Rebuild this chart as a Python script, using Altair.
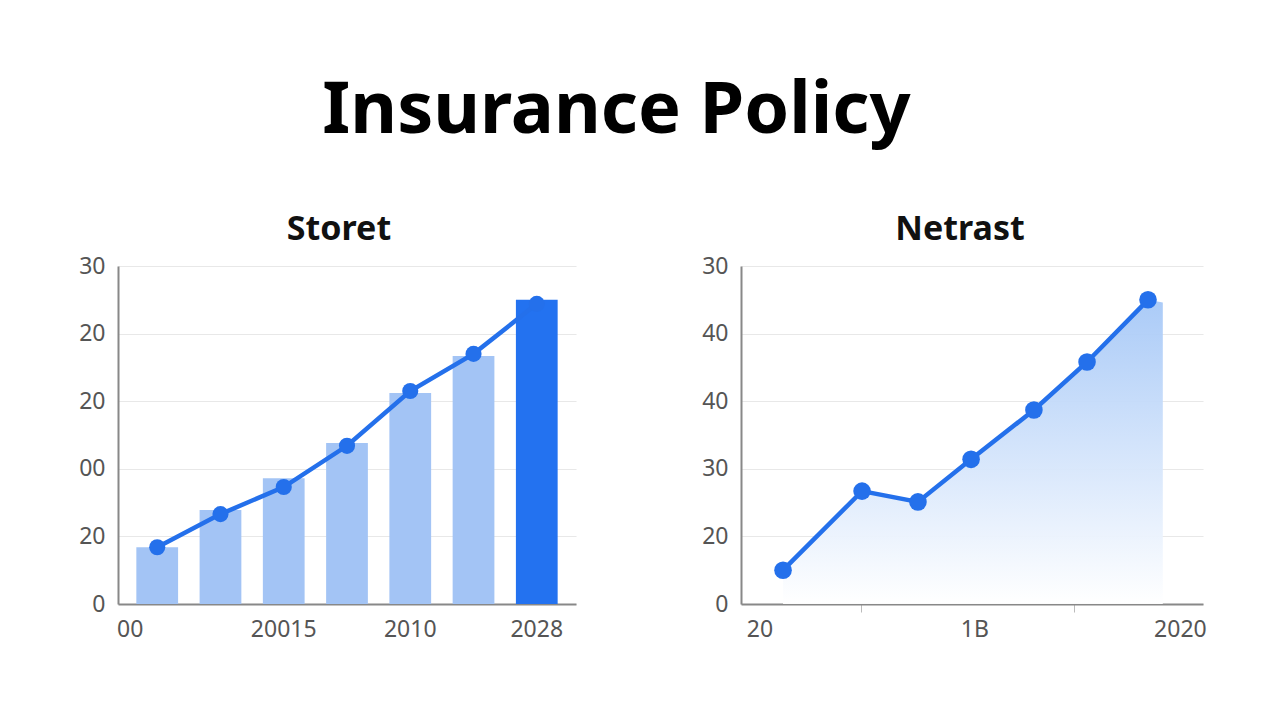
import altair as alt
import pandas as pd

# ---- data ----
left_cats = ["c1", "c2", "c3", "c4", "c5", "c6", "c7"]
left_bars = [8.4, 13.9, 18.6, 23.8, 31.2, 36.7, 45.0]
left_line = [8.4, 13.3, 17.3, 23.4, 31.5, 37.0, 44.4]
left_xlabels = {"c1": "00", "c3": "20015", "c5": "2010", "c7": "2028"}
left_ylabels = {0: "0", 10: "20", 20: "00", 30: "20", 40: "20", 50: "30"}

right_x = [9.1, 26.2, 38.3, 49.8, 63.4, 74.9, 88.1]
right_y = [5.0, 16.7, 15.1, 21.4, 28.7, 35.8, 45.0]
right_area_x = [9.1, 26.2, 38.3, 49.8, 63.4, 74.9, 88.1, 91.3]
right_area_y = [5.0, 16.7, 15.1, 21.4, 28.7, 35.8, 45.0, 44.6]
right_ylabels = {0: "0", 10: "20", 20: "30", 30: "40", 40: "40", 50: "30"}
right_xlabels = {4: "20", 50.5: "1B", 95: "2020"}
right_xticks = [4, 26, 50.5, 72, 95]

FONT = "Noto Sans"
LIGHT = "#a3c4f5"
DARK = "#2372f0"
LINE = "#2470eb"
LABEL_SIZE = 23


def label_expr(mapping):
    parts = []
    for k, v in mapping.items():
        parts.append(f"datum.value == {k!r} ? '{v}'" if not isinstance(k, str) else f"datum.value == '{k}' ? '{v}'")
    return " : ".join(parts) + " : ''"


left_df = pd.DataFrame({"cat": left_cats, "bar": left_bars, "line": left_line})
right_df = pd.DataFrame({"x": right_x, "y": right_y})
area_df = pd.DataFrame({"x": right_area_x, "y": right_area_y})

yaxis_common = dict(
    values=[0, 10, 20, 30, 40, 50], title=None, ticks=False,
    labelFontSize=LABEL_SIZE, labelColor="#555555", labelFont=FONT, labelPadding=13,
    domainColor="#888888", domainWidth=2, gridColor="#e8e8e8", gridWidth=1.2,
)

y_left = alt.Y("bar:Q", scale=alt.Scale(domain=[0, 50], nice=False),
               axis=alt.Axis(labelExpr=label_expr(left_ylabels), **yaxis_common))
x_left = alt.X(
    "cat:N", sort=left_cats,
    scale=alt.Scale(paddingInner=0.34, paddingOuter=0.29),
    axis=alt.Axis(
        title=None, ticks=False, labelAngle=0, labelFontSize=LABEL_SIZE, labelColor="#555555",
        labelFont=FONT, labelPadding=14, domainColor="#888888", domainWidth=2,
        labelExpr=label_expr(left_xlabels),
        labelOffset={"condition": {"test": "datum.value == 'c1'", "value": -27}, "value": 0},
    ),
)

base_left = alt.Chart(left_df)
bars = base_left.mark_bar().encode(
    x=x_left, y=y_left,
    color=alt.condition("datum.cat == 'c7'", alt.value(DARK), alt.value(LIGHT)),
)
lline = base_left.mark_line(color=LINE, strokeWidth=4.5).encode(
    x=alt.X("cat:N", sort=left_cats), y=alt.Y("line:Q"))
lpts = base_left.mark_circle(color=LINE, size=260, opacity=1).encode(
    x=alt.X("cat:N", sort=left_cats), y=alt.Y("line:Q"))

left = alt.layer(bars, lline, lpts).properties(
    width=458, height=338,
    title=alt.TitleParams("Storet", fontSize=34, font=FONT, fontWeight="bold",
                          color="#111111", offset=8, anchor="middle", dx=-8),
)

x_right_scale = alt.Scale(domain=[0, 100], nice=False)
y_right = alt.Y("y:Q", scale=alt.Scale(domain=[0, 50], nice=False),
                axis=alt.Axis(labelExpr=label_expr(right_ylabels), **yaxis_common))
x_right = alt.X(
    "x:Q", scale=x_right_scale,
    axis=alt.Axis(
        title=None, values=right_xticks, grid=False, tickSize=8, tickColor="#bbbbbb",
        tickOpacity={"condition": {"test": "datum.value == 26 || datum.value == 72", "value": 1}, "value": 0},
        labelFontSize=LABEL_SIZE, labelColor="#555555", labelFont=FONT, labelPadding=6,
        domainColor="#888888", domainWidth=2, labelExpr=label_expr(right_xlabels),
    ),
)

area = alt.Chart(area_df).mark_area(
    color=alt.Gradient(
        gradient="linear",
        stops=[alt.GradientStop(color="#ffffff", offset=0),
               alt.GradientStop(color="#a6c8f7", offset=1)],
        x1=1, x2=1, y1=1, y2=0,
    ),
    opacity=0.95,
).encode(x=x_right, y=y_right)
rline = alt.Chart(right_df).mark_line(color=LINE, strokeWidth=4.5).encode(
    x=alt.X("x:Q"), y=alt.Y("y:Q"))
rpts = alt.Chart(right_df).mark_circle(color=LINE, size=310, opacity=1).encode(
    x=alt.X("x:Q"), y=alt.Y("y:Q"))

right = alt.layer(area, rline, rpts).properties(
    width=462, height=338,
    title=alt.TitleParams("Netrast", fontSize=34, font=FONT, fontWeight="bold",
                          color="#111111", offset=8, anchor="middle", dx=-12),
)

chart = alt.hconcat(left, right, spacing=125).properties(
    title=alt.TitleParams("Insurance Policy", fontSize=72, font=FONT, fontWeight="bold",
                          color="#000000", anchor="middle", offset=65, dx=-26),
    padding={"left": 78, "top": 75, "right": 20, "bottom": 10},
    background="white",
).configure_view(stroke=None).configure_axis(labelFont=FONT)

chart.save("out.html", embed_options={"renderer": "svg", "actions": False})
